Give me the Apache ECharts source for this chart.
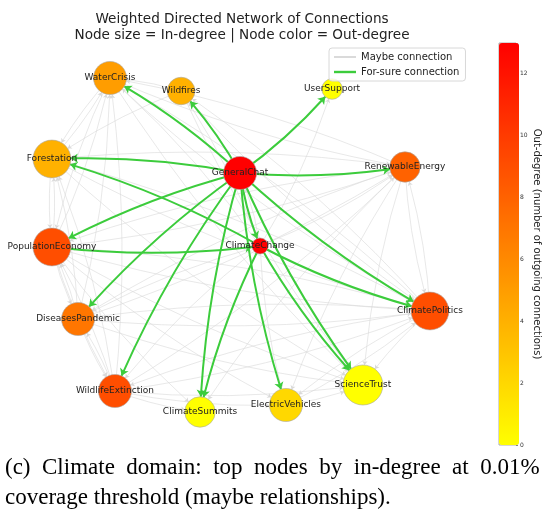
<!DOCTYPE html>
<html>
<head>
<meta charset="utf-8">
<script src="https://cdn.jsdelivr.net/npm/echarts@6/dist/echarts.min.js"></script>
<style>
  html, body { margin: 0; padding: 0; background: #fff; }
  #chart { width: 543px; height: 521px; }
</style>
</head>
<body>
<div id="chart"></div>
<script>
// nodes (layout position in [-1, 1] space, in-degree -> size, out-degree -> colour)
const nodeNames = ['WaterCrisis', 'Wildfires', 'Forestation', 'GeneralChat', 'UserSupport',
  'RenewableEnergy', 'PopulationEconomy', 'ClimateChange', 'DiseasesPandemic',
  'WildlifeExtinction', 'ClimateSummits', 'ElectricVehicles', 'ScienceTrust', 'ClimatePolitics'];
const layoutX = [-0.60, -0.284, -0.858, -0.022, 0.387, 0.711, -0.858, 0.067, -0.742, -0.578, -0.20, 0.182, 0.524, 0.822];
const layoutY = [0.835, 0.77, 0.43, 0.36, 0.78, 0.39, -0.01, -0.005, -0.37, -0.73, -0.835, -0.80, -0.70, -0.33];
const inDegree = [6, 4, 8, 6, 2, 5, 8, 1, 6, 6, 5, 6, 9, 8];
const outDegree = [5, 4, 4, 13, 0, 8, 9, 13, 7, 9, 0, 2, 0, 9];

// for-sure (green) edges
const sureEdges = [
  ['GeneralChat', 'WaterCrisis'], ['GeneralChat', 'Wildfires'], ['GeneralChat', 'UserSupport'],
  ['GeneralChat', 'RenewableEnergy'], ['GeneralChat', 'Forestation'], ['GeneralChat', 'PopulationEconomy'],
  ['GeneralChat', 'DiseasesPandemic'], ['GeneralChat', 'WildlifeExtinction'], ['GeneralChat', 'ClimateSummits'],
  ['GeneralChat', 'ElectricVehicles'], ['GeneralChat', 'ScienceTrust'], ['GeneralChat', 'ClimatePolitics'],
  ['GeneralChat', 'ClimateChange'],
  ['ClimateChange', 'Forestation'], ['PopulationEconomy', 'ClimateChange'], ['ClimateChange', 'ClimateSummits'],
  ['ClimateChange', 'ScienceTrust'], ['ClimateChange', 'ClimatePolitics']
];

// maybe (grey) edges
const maybeEdges = [
  ['WaterCrisis', 'ScienceTrust'], ['WaterCrisis', 'ClimatePolitics'], ['WaterCrisis', 'PopulationEconomy'],
  ['WaterCrisis', 'Forestation'], ['WaterCrisis', 'RenewableEnergy'],
  ['Wildfires', 'ScienceTrust'], ['Wildfires', 'ClimatePolitics'], ['Wildfires', 'Forestation'], ['Wildfires', 'WaterCrisis'],
  ['Forestation', 'ScienceTrust'], ['Forestation', 'ClimatePolitics'], ['Forestation', 'PopulationEconomy'], ['Forestation', 'WaterCrisis'],
  ['RenewableEnergy', 'ScienceTrust'], ['RenewableEnergy', 'ClimatePolitics'], ['RenewableEnergy', 'Forestation'],
  ['RenewableEnergy', 'PopulationEconomy'], ['RenewableEnergy', 'WaterCrisis'], ['RenewableEnergy', 'ElectricVehicles'],
  ['RenewableEnergy', 'ClimateSummits'], ['RenewableEnergy', 'DiseasesPandemic'],
  ['PopulationEconomy', 'ScienceTrust'], ['PopulationEconomy', 'ClimatePolitics'], ['PopulationEconomy', 'Forestation'],
  ['PopulationEconomy', 'WaterCrisis'], ['PopulationEconomy', 'RenewableEnergy'], ['PopulationEconomy', 'DiseasesPandemic'],
  ['PopulationEconomy', 'WildlifeExtinction'], ['PopulationEconomy', 'ElectricVehicles'], ['PopulationEconomy', 'ClimateSummits'],
  ['ClimateChange', 'WaterCrisis'], ['ClimateChange', 'Wildfires'], ['ClimateChange', 'RenewableEnergy'],
  ['ClimateChange', 'DiseasesPandemic'], ['ClimateChange', 'WildlifeExtinction'], ['ClimateChange', 'ElectricVehicles'],
  ['ClimateChange', 'UserSupport'], ['ClimateChange', 'GeneralChat'],
  ['DiseasesPandemic', 'ScienceTrust'], ['DiseasesPandemic', 'ClimatePolitics'], ['DiseasesPandemic', 'Forestation'],
  ['DiseasesPandemic', 'PopulationEconomy'], ['DiseasesPandemic', 'WaterCrisis'], ['DiseasesPandemic', 'WildlifeExtinction'],
  ['DiseasesPandemic', 'RenewableEnergy'],
  ['WildlifeExtinction', 'ScienceTrust'], ['WildlifeExtinction', 'ClimatePolitics'], ['WildlifeExtinction', 'Forestation'],
  ['WildlifeExtinction', 'PopulationEconomy'], ['WildlifeExtinction', 'WaterCrisis'], ['WildlifeExtinction', 'DiseasesPandemic'],
  ['WildlifeExtinction', 'RenewableEnergy'], ['WildlifeExtinction', 'ElectricVehicles'], ['WildlifeExtinction', 'ClimateSummits'],
  ['ElectricVehicles', 'ScienceTrust'], ['ElectricVehicles', 'ClimatePolitics'],
  ['ClimatePolitics', 'ScienceTrust'], ['ClimatePolitics', 'Forestation'], ['ClimatePolitics', 'PopulationEconomy'],
  ['ClimatePolitics', 'WaterCrisis'], ['ClimatePolitics', 'RenewableEnergy'], ['ClimatePolitics', 'DiseasesPandemic'],
  ['ClimatePolitics', 'WildlifeExtinction'], ['ClimatePolitics', 'ElectricVehicles'], ['ClimatePolitics', 'Wildfires']
];

const titleLines = ['Weighted Directed Network of Connections', 'Node size = In-degree | Node color = Out-degree'];
const captionLines = ['(c)  Climate  domain:  top  nodes  by  in-degree  at  0.01%', 'coverage threshold (maybe relationships).'];
const colorbarTicks = [0, 2, 4, 6, 8, 10, 12];
const outMax = 13;
const ramp = ['#ffff00', '#ff0000'];   // yellow -> red, like autumn_r

const green = '#3ccc3c';
const grey = '#d9d9d9';

function nodeSize(d) {
  return 2 * Math.sqrt(22 + 42 * d);
}

function buildNodes(visible) {
  return nodeNames.map(function (n, i) {
    return {
      name: n,
      value: [layoutX[i], layoutY[i]],
      symbolSize: nodeSize(inDegree[i]),
      itemStyle: visible
        ? { color: echarts.color.lerp(outDegree[i] / outMax, ramp), borderColor: '#a8a8a8', borderWidth: 0.6 }
        : { opacity: 0 },
      label: { show: visible }
    };
  });
}

function buildLinks(list) {
  return list.map(function (e) { return { source: e[0], target: e[1] }; });
}

const chart = echarts.init(document.getElementById('chart'), null, { renderer: 'canvas' });

chart.setOption({
  animation: false,
  backgroundColor: '#fff',
  title: [
    {
      text: titleLines.join('\n'),
      left: 237, top: 6, textAlign: 'center',
      textStyle: { fontFamily: 'DejaVu Sans', fontSize: 13.6, fontWeight: 'normal', color: '#222', lineHeight: 16 }
    },
    {
      text: captionLines.join('\n'),
      left: 0, top: 448,
      textStyle: { fontFamily: 'Liberation Serif', fontSize: 23, fontWeight: 'normal', color: '#000', lineHeight: 30 }
    }
  ],
  legend: {
    orient: 'vertical',
    left: 329, top: 48,
    padding: [4, 6, 4, 5],
    itemGap: 5,
    itemWidth: 22, itemHeight: 10,
    borderColor: '#d8d8d8', borderWidth: 1, borderRadius: 3,
    backgroundColor: 'rgba(255,255,255,0.8)',
    textStyle: { fontFamily: 'DejaVu Sans', fontSize: 10, color: '#222' },
    data: [
      { name: 'Maybe connection', icon: 'path://M0,0H22V1H0Z', itemStyle: { color: '#b4b4b4' } },
      { name: 'For-sure connection', icon: 'path://M0,0H22V2.4H0Z', itemStyle: { color: green } }
    ]
  },
  visualMap: {
    type: 'continuous',
    min: 0, max: outMax,
    seriesIndex: [],
    calculable: false,
    left: 499, top: 43,
    itemWidth: 20, itemHeight: 402,
    padding: 0,
    text: null,
    inRange: { color: ramp }
  },
  grid: [
    { left: 20, top: 45, width: 450, height: 400 },
    { left: 499, top: 43, width: 20, height: 402, show: true, borderColor: '#777', borderWidth: 0.6, backgroundColor: 'transparent' }
  ],
  xAxis: [
    { gridIndex: 0, type: 'value', min: -1, max: 1, show: false },
    { gridIndex: 1, type: 'category', data: [''], show: false }
  ],
  yAxis: [
    { gridIndex: 0, type: 'value', min: -1, max: 1, show: false },
    {
      gridIndex: 1, type: 'value', min: 0, max: outMax, interval: 2, position: 'right',
      axisLine: { show: false },
      splitLine: { show: false },
      axisTick: { show: true, length: 2, lineStyle: { color: '#333', width: 0.6 } },
      axisLabel: {
        fontFamily: 'DejaVu Sans', fontSize: 6, color: '#333', margin: 4,
        formatter: function (v) { return colorbarTicks.indexOf(v) >= 0 ? String(v) : ''; }
      },
      name: 'Out-degree (number of outgoing connections)',
      nameLocation: 'middle', nameRotate: -90, nameGap: 16,
      nameTextStyle: { fontFamily: 'DejaVu Sans', fontSize: 10, color: '#222' }
    }
  ],
  series: [
    {
      name: 'Maybe connection',
      type: 'graph',
      coordinateSystem: 'cartesian2d',
      xAxisIndex: 0, yAxisIndex: 0,
      silent: true,
      z: 1,
      data: buildNodes(false),
      links: buildLinks(maybeEdges),
      itemStyle: { color: grey },
      edgeSymbol: ['none', 'arrow'],
      edgeSymbolSize: [0, 4],
      lineStyle: { color: grey, width: 0.6, opacity: 1, curveness: -0.06 },
      label: { show: false },
      emphasis: { disabled: true }
    },
    {
      name: 'For-sure connection',
      type: 'graph',
      coordinateSystem: 'cartesian2d',
      xAxisIndex: 0, yAxisIndex: 0,
      silent: true,
      z: 2,
      data: buildNodes(true),
      links: buildLinks(sureEdges),
      itemStyle: { color: green },
      edgeSymbol: ['none', 'arrow'],
      edgeSymbolSize: [0, 7],
      lineStyle: { color: green, width: 2, opacity: 1, curveness: -0.06 },
      label: {
        show: true, position: 'inside',
        fontFamily: 'DejaVu Sans', fontSize: 9, color: '#222'
      },
      emphasis: { disabled: true }
    }
  ]
});
</script>
</body>
</html>
